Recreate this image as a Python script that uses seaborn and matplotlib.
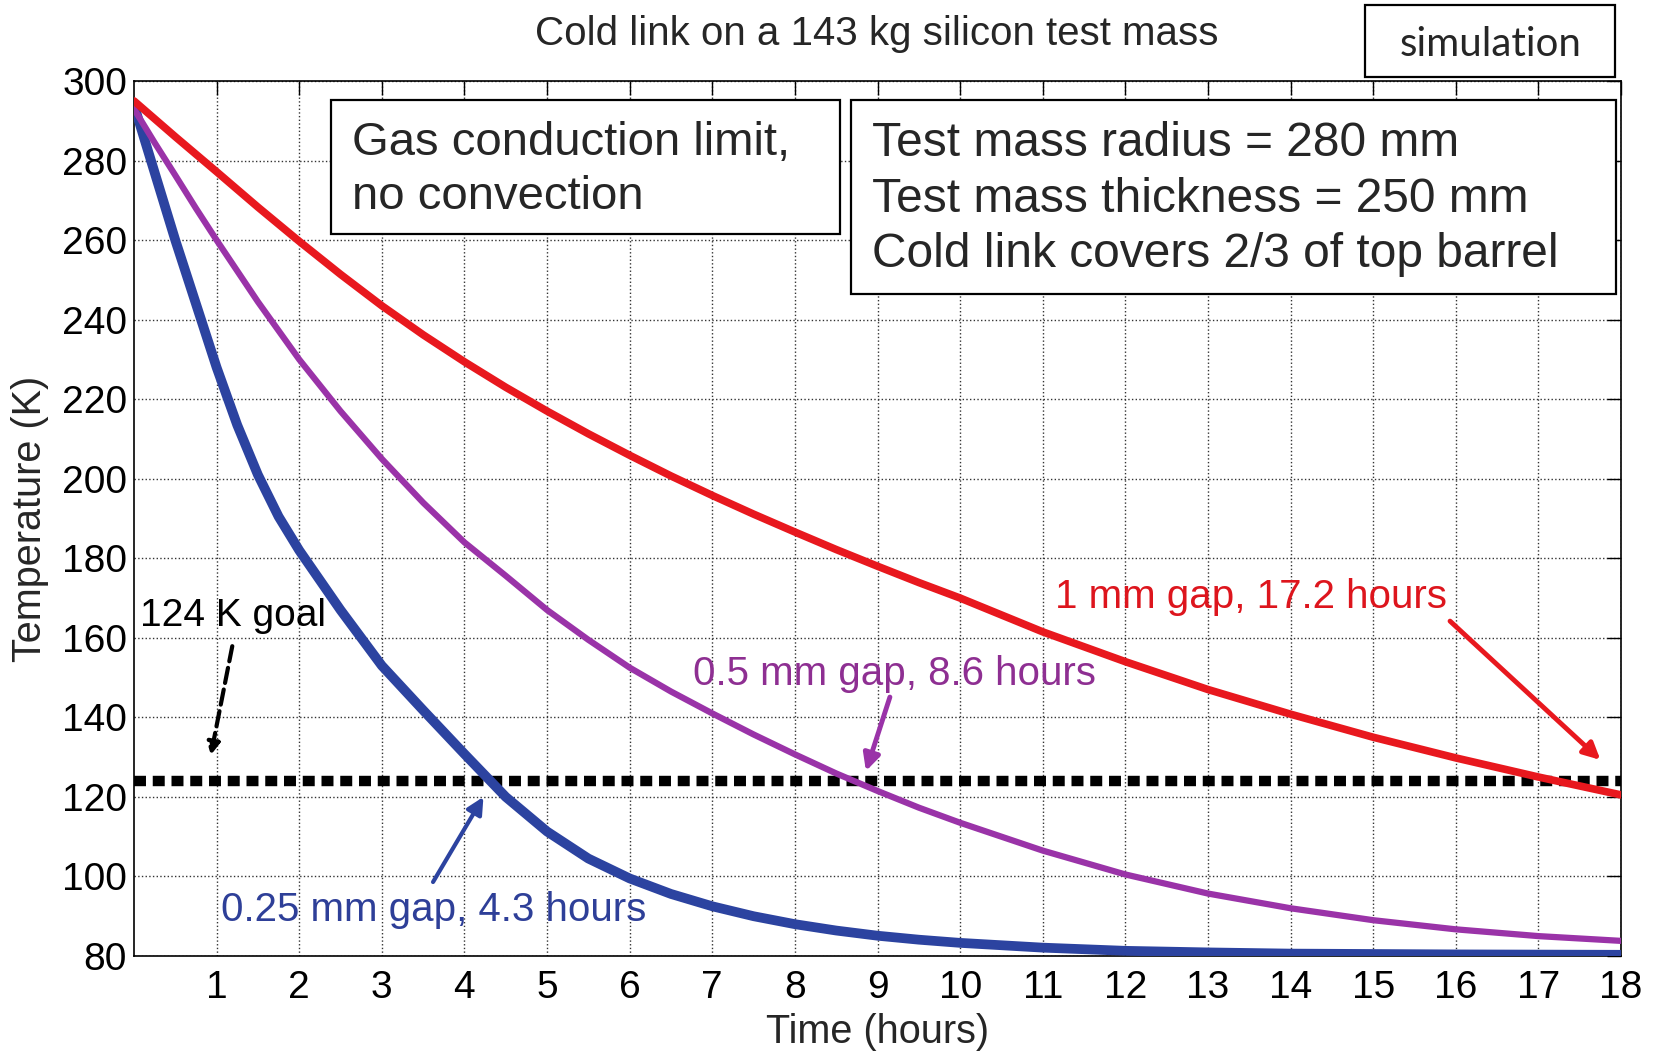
import numpy as np
import pandas as pd
import seaborn as sns
import matplotlib
matplotlib.use("Agg")
import matplotlib.pyplot as plt
from matplotlib.patches import Rectangle

# ---------------- data ----------------
t_blue = [0, 0.25, 0.5, 0.75, 1, 1.25, 1.5, 1.75, 2, 2.5, 3, 3.5, 4, 4.5, 5, 5.5, 6, 6.5, 7, 7.5, 8,
          8.5, 9, 9.5, 10, 11, 12, 13, 14, 16, 18]
T_blue = [294, 277, 260, 244, 228, 213.5, 201, 190.5, 182, 167, 153, 141.8, 130.8, 120, 111.3, 104.5,
          99.5, 95.6, 92.5, 90, 88, 86.4, 85.1, 84.1, 83.3, 82.1, 81.3, 80.9, 80.6, 80.4, 80.3]

t_purple = [0, 0.25, 0.5, 0.75, 1, 1.5, 2, 2.5, 3, 3.5, 4, 4.5, 5, 5.5, 6, 6.5, 7, 7.5, 8, 8.5, 9, 9.5,
            10, 11, 12, 13, 14, 15, 16, 17, 18]
T_purple = [293, 284.5, 276.3, 268, 260, 244.5, 230, 217, 205, 194, 184, 175.6, 167, 159.5, 152.5,
            146.5, 141, 135.7, 130.7, 125.9, 121.5, 117.3, 113.5, 106.5, 100.5, 95.7, 92, 89, 86.7,
            85, 83.8]

t_red = [0, 0.5, 1, 1.5, 2, 2.5, 3, 3.5, 4, 4.5, 5, 5.5, 6, 6.5, 7, 7.5, 8, 8.5, 9, 9.5, 10, 11, 12,
         13, 14, 15, 16, 17, 18]
T_red = [295, 286, 277.2, 268.3, 259.7, 251.4, 243.5, 236.2, 229.4, 223, 217, 211.3, 205.9, 200.7,
         195.8, 191.1, 186.6, 182.2, 178, 173.9, 170, 161.5, 154, 147, 140.8, 135, 129.8, 125, 120.5]

goal_T = 124
x_ticks = list(range(1, 19))
y_ticks = list(range(80, 301, 20))

title = "Cold link on a 143 kg silicon test mass"
labels = ["0.25 mm gap, 4.3 hours", "0.5 mm gap, 8.6 hours", "1 mm gap, 17.2 hours"]

# ---------------- style ----------------
sns.set_theme(style="white")
plt.rcParams["font.family"] = ["Liberation Sans", "DejaVu Sans"]

c_blue, c_purple, c_red = "#2C43A0", "#9A33A8", "#E8181E"
tc_blue, tc_purple, tc_red = "#2E3F98", "#8E2F92", "#DD151D"

fig = plt.figure(figsize=(16.56, 10.51), dpi=100)
ax = fig.add_axes([0.0809, 0.0904, 0.898, 0.8325])

ax.axhline(goal_T, color="black", lw=7.5, linestyle=(0, (1.15, 0.65)),
           dash_capstyle="butt", zorder=2)

df_b = pd.DataFrame({"t": t_blue, "T": T_blue})
df_p = pd.DataFrame({"t": t_purple, "T": T_purple})
df_r = pd.DataFrame({"t": t_red, "T": T_red})
sns.lineplot(data=df_b, x="t", y="T", ax=ax, color=c_blue, lw=7, zorder=3,
             solid_joinstyle="round")
sns.lineplot(data=df_p, x="t", y="T", ax=ax, color=c_purple, lw=4.5, zorder=3,
             solid_joinstyle="round")
sns.lineplot(data=df_r, x="t", y="T", ax=ax, color=c_red, lw=5.5, zorder=3,
             solid_joinstyle="round")

ax.set_xlim(0, 18)
ax.set_ylim(80, 300)
ax.set_xticks(x_ticks)
ax.set_yticks(y_ticks)
ax.tick_params(axis="both", direction="in", length=10, width=1, top=True, right=True,
               labelsize=28, colors="black")
ax.tick_params(axis="x", pad=10)
ax.tick_params(axis="y", pad=5)
ax.grid(True, linestyle=":", color="#333333", lw=1.0)
for s in ax.spines.values():
    s.set_color("black")
    s.set_linewidth(1.2)

ax.set_xlabel("Time (hours)", fontsize=28.5)
ax.set_ylabel("Temperature (K)", fontsize=28.5)
ax.xaxis.set_label_coords(0.5, -0.065)
ax.yaxis.set_label_coords(-0.057, 0.5)

fig.text(877 / 1656, 1 - 34 / 1051, title, ha="center", va="center", fontsize=29)

# annotations
ax.text(1.20, 165.5, "124 K goal", fontsize=28, ha="center", va="center", color="black", zorder=6)
ax.annotate("", xy=(0.93, 130.5), xytext=(1.19, 157.9),
            arrowprops=dict(arrowstyle="-|>", color="black", lw=3, linestyle="--",
                            mutation_scale=18, shrinkA=0, shrinkB=0), zorder=6)

ax.text(3.63, 91.5, labels[0], fontsize=29, ha="center", va="center", color=tc_blue, zorder=6)
ax.annotate("", xy=(4.23, 120), xytext=(3.62, 98.6),
            arrowprops=dict(arrowstyle="-|>", color=c_blue, lw=3, mutation_scale=25,
                            shrinkA=0, shrinkB=0), zorder=6)

ax.text(9.2, 150.9, labels[1], fontsize=29, ha="center", va="center", color=tc_purple, zorder=6)
ax.annotate("", xy=(8.86, 126.5), xytext=(9.15, 145.1),
            arrowprops=dict(arrowstyle="-|>", color=c_purple, lw=3.5, mutation_scale=25,
                            shrinkA=0, shrinkB=0), zorder=6)

ax.text(13.52, 170.3, labels[2], fontsize=29, ha="center", va="center", color=tc_red, zorder=6)
ax.annotate("", xy=(17.75, 129.3), xytext=(15.93, 164.2),
            arrowprops=dict(arrowstyle="-|>", color=c_red, lw=3.5, mutation_scale=25,
                            shrinkA=0, shrinkB=0), zorder=6)

# boxes
W, H = 1656.0, 1051.0
def fig_box(x0, y0, x1, y1):
    r = Rectangle((x0 / W, 1 - y1 / H), (x1 - x0) / W, (y1 - y0) / H,
                  transform=fig.transFigure, facecolor="white", edgecolor="black",
                  lw=1.6, zorder=5)
    fig.add_artist(r)

fig_box(331, 100, 840, 234)
fig.text(352 / W, 1 - 170 / H, "Gas conduction limit,\nno convection", fontsize=34,
         ha="left", va="center", linespacing=1.3, zorder=6)

fig_box(851, 100, 1616, 294)
fig.text(872 / W, 1 - 199 / H,
         "Test mass radius = 280 mm\nTest mass thickness = 250 mm\nCold link covers 2/3 of top barrel",
         fontsize=34.5, ha="left", va="center", linespacing=1.29, zorder=6)

fig_box(1365, 5, 1615, 77)
fig.text(1491 / W, 1 - 45 / H, "simulation", fontsize=29, ha="center", va="center",
         family=["Lato", "DejaVu Sans"], zorder=6)

fig.savefig("out.png", dpi=100)
